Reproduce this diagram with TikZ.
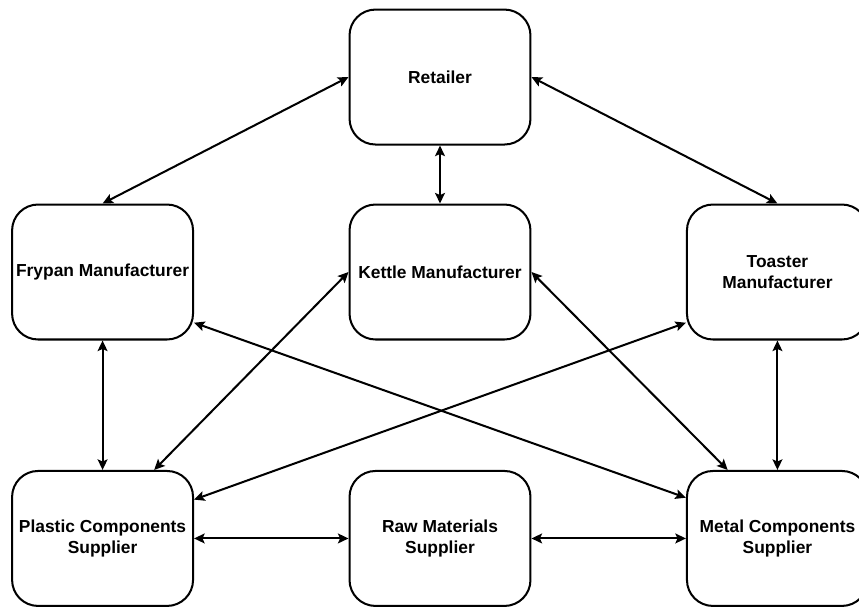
\documentclass[tikz,border=0pt]{standalone}
\usepackage{fontspec}
\setmainfont{Liberation Sans}
\usetikzlibrary{arrows.meta}
\usetikzlibrary{positioning}

\begin{document}
\begin{tikzpicture}[x=0.02cm,y=-0.02cm,<->,>={Stealth[length=6pt,width=5.6pt,inset=1.2pt]},node distance=6.75cm,
                    line width=1.15pt,main node/.style={rectangle,rounded corners=0.52cm,draw,align=center,
                    minimum width=3.62cm,minimum height=2.7cm,inner sep=1pt,
                    font=\bfseries\fontsize{9.9}{11.8}\selectfont}]

  \clip (0,0) rectangle (859,606);

  \node[main node](kettle) at (440,272) {Kettle Manufacturer};
  \node[main node](retailer) [above of=kettle,node distance=3.9cm] {Retailer};
  \node[main node](frypan) [left of=kettle] {Frypan Manufacturer};
  \node[main node](toaster) [right of=kettle] {Toaster\\Manufacturer};
  \node[main node](raw) [below of=kettle,node distance=5.33cm] {Raw Materials\\Supplier};
  \node[main node](plastic) [left of=raw] {Plastic Components\\Supplier};
  \node[main node](metal) [right of=raw] {Metal Components\\Supplier};

  \path
    (retailer.west) edge (frypan.north)
    (retailer.south) edge (kettle.north)
    (retailer.east) edge (toaster.north)
    (frypan.south) edge (plastic.north)
    (toaster.south) edge (metal.north)
    (kettle.west) edge (plastic.53.5)
    (kettle.east) edge (metal.126.5)
    (frypan.-29.5) edge (metal.156.5)
    (toaster.209.5) edge (plastic.23.5)
    (plastic.east) edge (raw.west)
    (raw.east) edge (metal.west);
\end{tikzpicture}
\end{document}
